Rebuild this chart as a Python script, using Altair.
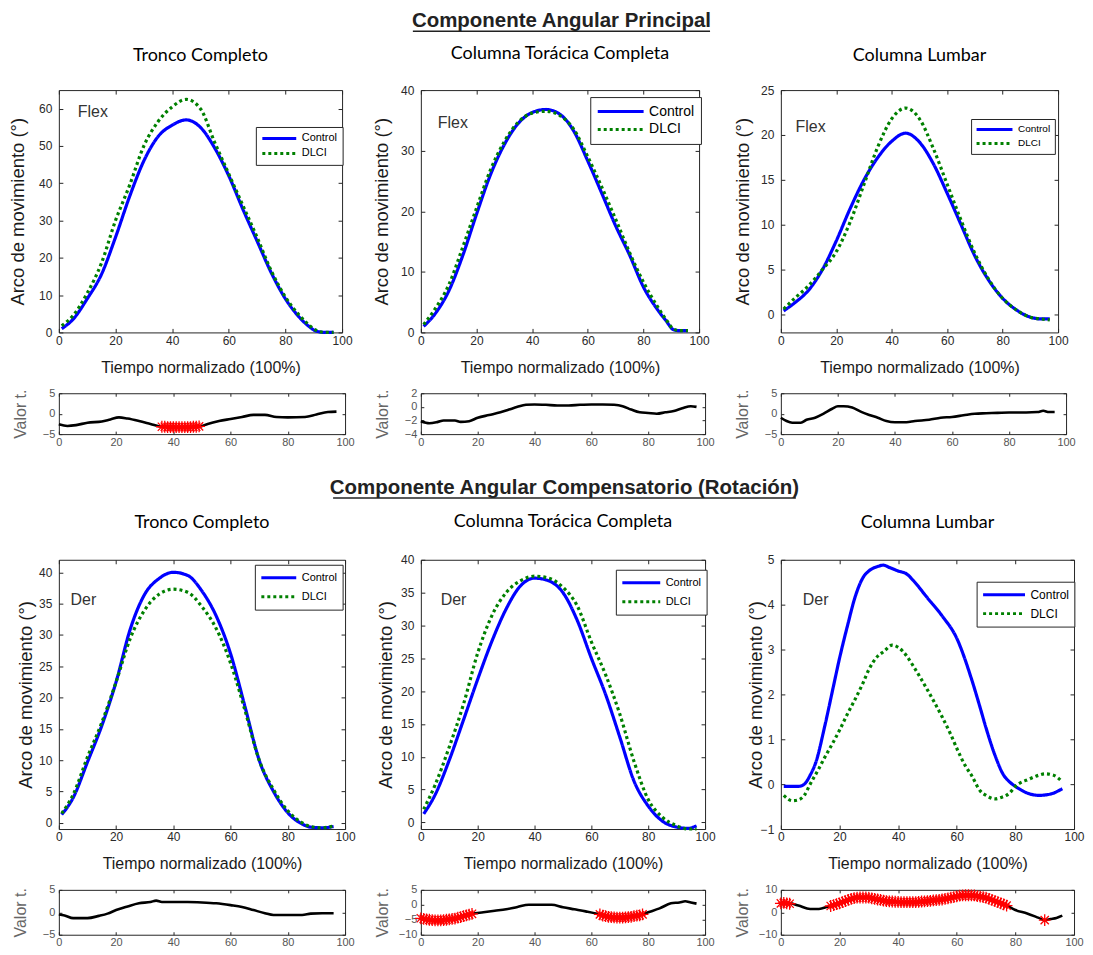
import altair as alt
import pandas as pd

FONT = "Liberation Sans"
TFONT = "Lato"
SFONT = "Liberation Sans Narrow, Liberation Sans"
AX = "#2a2a2a"
BOX = "#262626"
SERIES = ["Control", "DLCI"]
X_TICKS = [0, 20, 40, 60, 80, 100]
ASTERISK = "M-1,0L1,0M0,-1L0,1M-0.7,-0.7L0.7,0.7M-0.7,0.7L0.7,-0.7"

section_titles = ["Componente Angular Principal",
                  "Componente Angular Compensatorio (Rotación)"]
panel_titles = ["Tronco Completo", "Columna Torácica Completa", "Columna Lumbar"]
mov_labels = ["Flex", "Der"]
y_title = "Arco de movimiento (°)"
x_title = "Tiempo normalizado (100%)"
t_title = "Valor t."

# ---------------- main panels (mean curves) ----------------
p1_x = [1, 5, 10, 15, 20, 25, 30, 35, 40, 45, 50, 55, 60, 65, 70, 75, 80, 85, 88, 91, 94, 97]
p1_control = [1, 3.5, 9, 15.5, 25.5, 36.5, 46, 52.5, 55.6, 57, 55, 49.5, 42, 33, 24.5, 16, 9, 4, 1.8, 0.3, 0, 0]
p1_dlci = [1.8, 4.5, 10.5, 18.5, 30, 39.5, 50, 56.5, 60.5, 62.5, 60, 51, 42.5, 34, 25.5, 16.5, 9.5, 4.5, 2.2, 0.5, 0, 0]

p2_x = [1, 5, 10, 15, 20, 25, 30, 35, 40, 45, 50, 55, 60, 65, 70, 75, 80, 85, 88, 91, 93, 96]
p2_control = [1, 3, 6.8, 12.6, 19.5, 26, 31, 34.5, 36.3, 36.8, 36, 33.2, 28.3, 23, 17.6, 12.8, 7.5, 3.8, 2, 0.4, 0.3, 0.3]
p2_dlci = [1.3, 3.8, 7.8, 14, 20.5, 26.8, 31.5, 34.7, 36.2, 36.5, 35.8, 33.5, 29, 24, 18.7, 13.2, 8.3, 4.3, 2.2, 0.5, 0.3, 0.3]

p3_x = [1, 5, 10, 15, 20, 25, 30, 35, 40, 45, 50, 55, 60, 65, 70, 75, 80, 85, 90, 94, 97]
p3_control = [0.4, 1.3, 2.7, 5, 8.2, 11.8, 15, 17.5, 19.3, 20.2, 19.2, 16.8, 13.5, 10, 6.5, 3.8, 1.8, 0.5, -0.3, -0.5, -0.5]
p3_dlci = [0.6, 1.8, 3.2, 5, 7, 10.3, 14.5, 18.7, 21.8, 23, 21.8, 18.5, 14.5, 10.5, 6.8, 3.9, 1.8, 0.5, -0.3, -0.5, -0.6]

p4_x = [1, 5, 10, 15, 20, 25, 30, 35, 40, 45, 50, 55, 60, 65, 70, 75, 80, 85, 88, 92, 96]
p4_control = [1.3, 4, 9.7, 15.5, 22.5, 31, 36.5, 39, 40, 39.5, 37, 33, 27, 18.6, 10, 5, 1.6, -0.2, -0.7, -0.8, -0.6]
p4_dlci = [1.5, 4.5, 10.5, 16, 22.5, 29.5, 34, 36.5, 37.3, 36.8, 34.5, 31, 25.5, 18, 10, 5.3, 1.9, 0, -0.6, -0.8, -0.5]

p5_x = [1, 5, 10, 15, 20, 25, 30, 35, 40, 45, 50, 55, 60, 65, 70, 75, 80, 85, 90, 94, 97]
p5_control = [1.3, 4.2, 9.5, 15.6, 21.8, 27.6, 32.5, 36, 37.2, 36.8, 35, 30.8, 25, 19.5, 13, 6.3, 2.5, 0.2, -0.7, -0.9, -0.5]
p5_dlci = [2, 5.7, 11.5, 18, 25.8, 31.5, 35, 36.8, 37.5, 37.2, 35.8, 33, 27.5, 22.5, 16.5, 9.3, 3.5, 0.8, -0.5, -1, -1]

p6_x_control = [1, 3, 6, 8, 10, 12, 15, 18, 20, 23, 25, 28, 30, 33, 35, 37, 40, 43, 45, 50, 55, 60, 65, 68, 70, 73, 76, 78, 80, 85, 88, 92, 96]
p6_control = [-0.05, -0.05, -0.05, 0, 0.2, 0.5, 1.3, 2.2, 2.8, 3.6, 4.1, 4.6, 4.75, 4.85, 4.88, 4.83, 4.75, 4.68, 4.55, 4.15, 3.75, 3.25, 2.35, 1.7, 1.25, 0.65, 0.2, 0.05, -0.05, -0.22, -0.25, -0.22, -0.1]
p6_x_dlci = [1, 4, 6, 8, 10, 13, 15, 18, 20, 23, 25, 28, 30, 33, 35, 38, 40, 43, 45, 50, 55, 58, 60, 63, 65, 68, 70, 73, 75, 78, 80, 85, 88, 90, 93, 96]
p6_dlci = [-0.25, -0.37, -0.35, -0.25, 0.0, 0.35, 0.6, 0.95, 1.2, 1.6, 1.85, 2.25, 2.55, 2.85, 2.95, 3.1, 3.05, 2.85, 2.65, 2.1, 1.5, 1.1, 0.8, 0.4, 0.2, -0.15, -0.25, -0.33, -0.3, -0.2, -0.05, 0.12, 0.2, 0.23, 0.2, 0.05]

# ---------------- t-value panels ----------------
s1_x = [0, 3, 6, 10, 15, 18, 21, 24, 28, 32, 36, 40, 45, 49, 52, 56, 60, 64, 68, 72, 76, 80, 86, 90, 94, 97]
s1_t = [-2.6, -3, -2.8, -2.2, -1.9, -1.4, -0.9, -1.2, -1.8, -2.5, -3.2, -3.3, -3.3, -3.2, -2.5, -1.8, -1.3, -0.8, -0.3, -0.3, -0.8, -0.9, -0.8, -0.2, 0.4, 0.5]
s1_sig_x = [36, 37, 38, 39, 40, 41, 42, 43, 44, 45, 46, 47, 48, 49]
s1_sig_t = [-3.2, -3.2, -3.3, -3.3, -3.3, -3.3, -3.3, -3.3, -3.3, -3.3, -3.3, -3.2, -3.2, -3.1]

s2_x = [0, 3, 6, 8, 12, 14, 17, 20, 24, 28, 31, 34, 37, 40, 44, 48, 52, 56, 60, 64, 68, 71, 74, 77, 80, 83, 86, 89, 92, 95, 97]
s2_t = [-2.1, -2.4, -2.2, -2, -2, -2.2, -2.1, -1.6, -1.2, -0.8, -0.4, 0, 0.3, 0.35, 0.3, 0.2, 0.2, 0.3, 0.35, 0.35, 0.3, 0.1, -0.4, -0.8, -0.9, -1, -0.8, -0.6, -0.2, 0.1, 0]
s2_sig_x = []
s2_sig_t = []

s3_x = [0, 2, 4, 7, 9, 12, 15, 18, 20, 22, 25, 28, 31, 34, 37, 40, 44, 47, 52, 56, 60, 64, 68, 72, 76, 80, 86, 90, 92, 94, 96]
s3_t = [-1, -1.8, -2.2, -2.2, -1.5, -1, 0, 1.2, 1.8, 1.8, 1.5, 0.5, -0.3, -1, -1.8, -2.1, -2.1, -1.8, -1.5, -1, -0.8, -0.4, 0, 0.1, 0.2, 0.3, 0.3, 0.4, 0.7, 0.4, 0.4]
s3_sig_x = []
s3_sig_t = []

s4_x = [0, 2, 5, 10, 14, 17, 20, 24, 28, 32, 34, 36, 40, 45, 50, 55, 60, 64, 68, 72, 75, 80, 85, 88, 92, 96]
s4_t = [-0.5, -0.7, -1.3, -1.3, -0.8, -0.3, 0.5, 1.3, 2, 2.3, 2.6, 2.3, 2.3, 2.3, 2.2, 2, 1.6, 1.2, 0.5, -0.2, -0.6, -0.6, -0.6, -0.3, -0.2, -0.2]
s4_sig_x = []
s4_sig_t = []

s5_x = [0, 3, 6, 9, 12, 15, 18, 22, 26, 30, 34, 38, 42, 46, 50, 54, 58, 62, 65, 68, 71, 74, 77, 80, 84, 88, 91, 93, 95, 97]
s5_t = [-4.5, -5, -5.2, -5, -4.6, -3.8, -3, -2.5, -2, -1.5, -0.7, 0, 0, 0, -0.8, -1.5, -2.2, -3, -3.8, -4.2, -4.3, -4, -3.5, -2.5, -1.2, 0.5, 0.8, 1.2, 0.8, 0.4]
s5_sig_x = [0, 1, 2, 3, 4, 5, 6, 7, 8, 9, 10, 11, 12, 13, 14, 15, 16, 17, 18,
            63, 64, 65, 66, 67, 68, 69, 70, 71, 72, 73, 74, 75, 76, 77, 78]
s5_sig_t = [-4.5, -4.7, -4.9, -5, -5.1, -5.2, -5.2, -5.2, -5.1, -5, -4.9, -4.7, -4.6, -4.3, -4.1, -3.8, -3.5, -3.3, -3,
            -3.2, -3.6, -3.8, -4, -4.1, -4.2, -4.3, -4.3, -4.3, -4.2, -4.1, -4, -3.8, -3.6, -3.5, -3.2]

s6_x = [0, 3, 6, 10, 13, 16, 20, 23, 26, 30, 34, 38, 42, 46, 50, 54, 58, 62, 66, 70, 74, 77, 80, 84, 88, 90, 92, 94, 96]
s6_t = [4, 4, 3, 1.5, 1.5, 2.5, 4, 5.5, 6.5, 6.5, 5.5, 4.8, 4.5, 4.5, 5, 5.5, 6.5, 7.5, 7.5, 6.5, 4.5, 3, 1, -0.5, -2.5, -3.5, -3, -2.5, -1.5]
s6_sig_x = [0, 1, 2, 3,
            17, 18, 19, 20, 21, 22, 23, 24, 25, 26, 27, 28, 29, 30, 31, 32, 33, 34, 35, 36, 37, 38, 39, 40,
            41, 42, 43, 44, 45, 46, 47, 48, 49, 50, 51, 52, 53, 54, 55, 56, 57, 58, 59, 60, 61, 62, 63, 64,
            65, 66, 67, 68, 69, 70, 71, 72, 73, 74, 75, 76, 77,
            90]
s6_sig_t = [4, 4.2, 4, 3.8,
            2.8, 3.2, 3.6, 4, 4.5, 5, 5.5, 6, 6.3, 6.5, 6.6, 6.6, 6.6, 6.5, 6.2, 6, 5.7, 5.5, 5.2, 5, 4.9, 4.8, 4.7, 4.6,
            4.5, 4.5, 4.5, 4.5, 4.5, 4.5, 4.6, 4.8, 4.9, 5, 5.1, 5.3, 5.4, 5.5, 5.7, 6, 6.2, 6.5, 6.8, 7.1, 7.4, 7.5, 7.6, 7.6,
            7.5, 7.5, 7.2, 7, 6.8, 6.5, 6, 5.5, 5, 4.5, 4, 3.5, 3,
            -3.5]


def axis(orient, values, lsize, lpad, tick=4, labels=True, title=None, tsize=16,
         tpos=None, lcolor=AX, tcolor="#1a1a1a"):
    kw = dict(orient=orient, values=values, offset=-tick, tickSize=tick, tickColor=BOX,
              tickWidth=1, domain=False, grid=False, labels=labels, labelFont=FONT,
              labelFontSize=lsize, labelColor=lcolor, labelPadding=lpad,
              labelFlush=False, labelOverlap=False, title=title)
    if title is not None:
        kw.update(titleFont=FONT, titleFontSize=tsize, titleColor=tcolor,
                  titleFontWeight="normal", titleBaseline="middle")
        if tpos is not None:
            if orient in ("left", "right"):
                kw["titleX"] = tpos
            else:
                kw["titleY"] = tpos
    return alt.Axis(**kw)


def main_panel(title, xc, yc, xd, yd, ydom, yticks, w, h, mov, mov_xy, leg, ttl_off, ytx):
    df = pd.DataFrame({"t": xc + xd, "v": yc + yd,
                       "serie": ["Control"] * len(xc) + ["DLCI"] * len(xd)})
    xs = alt.Scale(domain=[0, 100], nice=False, zero=False)
    ys = alt.Scale(domain=ydom, nice=False, zero=False)
    fs, L, pad, clip_h, rowpad, ly, dx = leg
    lw = 2 * pad + L + 3 + 4 + 3.223 * fs
    legend = alt.Legend(title=None, orient="none", legendX=w - lw + dx, legendY=ly,
                        strokeColor=BOX, fillColor="white", padding=pad, cornerRadius=0,
                        labelFont=FONT, labelFontSize=fs, labelColor="black",
                        labelOffset=4, symbolType="stroke", symbolSize=L * L,
                        symbolStrokeWidth=3, clipHeight=clip_h, rowPadding=rowpad)
    lines = alt.Chart(df).mark_line(strokeWidth=3.2, strokeCap="butt", interpolate="monotone").encode(
        x=alt.X("t:Q", scale=xs, axis=axis("bottom", X_TICKS, 12, 3, title=x_title, tsize=16, tpos=39)),
        y=alt.Y("v:Q", scale=ys, axis=axis("left", yticks, 12, 7, title=y_title, tsize=18.5, tpos=ytx)),
        color=alt.Color("serie:N", scale=alt.Scale(domain=SERIES, range=["#0000ff", "#008000"]), legend=legend),
        strokeDash=alt.StrokeDash("serie:N", scale=alt.Scale(domain=SERIES, range=[[1, 0], [3, 3]]), legend=legend),
    )
    lab = alt.Chart(pd.DataFrame({"t": [mov_xy[0]], "v": [mov_xy[1]], "txt": [mov]})).mark_text(
        align="left", baseline="middle", font=FONT, fontSize=16, color="#333333").encode(
        x=alt.X("t:Q", scale=xs, axis=None), y=alt.Y("v:Q", scale=ys, axis=None), text="txt:N")
    frame = alt.Chart(df).mark_line(opacity=0).encode(
        x=alt.X("t:Q", scale=xs, axis=axis("top", X_TICKS, 12, 3, labels=False)),
        y=alt.Y("v:Q", scale=ys, axis=axis("right", yticks, 12, 3, labels=False)))
    return alt.layer(lines, lab, frame).resolve_axis(x="independent", y="independent").properties(
        width=w, height=h,
        title=alt.TitleParams(title, font=TFONT, fontSize=18, fontWeight="normal", color="black",
                              offset=ttl_off, anchor="middle"),
        view=alt.ViewBackground(stroke=BOX, strokeWidth=1))


def small_panel(x, t, sx, st, ydom, yticks, w, h):
    xs = alt.Scale(domain=[0, 100], nice=False, zero=False)
    ys = alt.Scale(domain=ydom, nice=False, zero=False)
    df = pd.DataFrame({"t": x, "v": t})
    line = alt.Chart(df).mark_line(color="black", strokeWidth=2.6, interpolate="monotone").encode(
        x=alt.X("t:Q", scale=xs, axis=axis("bottom", X_TICKS, 11, 2, tick=3, lcolor="#555555")),
        y=alt.Y("v:Q", scale=ys, axis=axis("left", yticks, 11, 4, tick=3, lcolor="#555555",
                                            title=t_title, tsize=16, tpos=-41, tcolor="#666666")))
    frame = alt.Chart(df).mark_line(opacity=0).encode(
        x=alt.X("t:Q", scale=xs, axis=axis("top", X_TICKS, 10, 2, tick=3, labels=False)),
        y=alt.Y("v:Q", scale=ys, axis=axis("right", yticks, 10, 2, tick=3, labels=False)))
    layers = [line]
    if sx:
        stars = alt.Chart(pd.DataFrame({"t": sx, "v": st})).mark_point(
            shape=ASTERISK, size=140, color="#ff0000", strokeWidth=1.3, filled=False, opacity=1).encode(
            x=alt.X("t:Q", scale=xs, axis=None), y=alt.Y("v:Q", scale=ys, axis=None))
        layers.append(stars)
    layers.append(frame)
    return alt.layer(*layers).resolve_axis(x="independent", y="independent").properties(
        width=w, height=h, view=alt.ViewBackground(stroke=BOX, strokeWidth=1))


def section(text, cx, ty, uy, halfw, h):
    df = pd.DataFrame({"txt": [text]})
    t = alt.Chart(df).mark_text(font=SFONT, fontSize=20.5, fontWeight="bold", color="#222222",
                                baseline="middle", align="center").encode(
        text="txt:N", x=alt.value(cx), y=alt.value(ty))
    u = alt.Chart(df).mark_rule(color="#222222", strokeWidth=1.5).encode(
        x=alt.value(cx - halfw), x2=alt.value(cx + halfw), y=alt.value(uy))
    return alt.layer(t, u).properties(width=285, height=h, view=alt.ViewBackground(stroke=None))


def empty():
    return alt.Chart(pd.DataFrame({"a": [0]})).mark_point(opacity=0).encode(
        x=alt.value(0), y=alt.value(0)).properties(width=1, height=1, view=alt.ViewBackground(stroke=None))


P1 = main_panel(panel_titles[0], p1_x, p1_control, p1_x, p1_dlci, [0, 65], [0, 10, 20, 30, 40, 50, 60],
                284, 243, mov_labels[0], (6.7, 59), (11, 34, 5, 13, 2, 37, 0), 25, -45)
P2 = main_panel(panel_titles[1], p2_x, p2_control, p2_x, p2_dlci, [0, 40], [0, 10, 20, 30, 40],
                279, 243, mov_labels[0], (6.1, 34.5), (14, 46, 6, 17, 1, 7, 1), 21, -43)
P3 = main_panel(panel_titles[2], p3_x, p3_control, p3_x, p3_dlci, [-2, 25], [0, 5, 10, 15, 20, 25],
                278, 243, mov_labels[0], (5.3, 20.9), (10, 36, 4, 13, 1, 29, -4), 19, -42)
P4 = main_panel(panel_titles[0], p4_x, p4_control, p4_x, p4_dlci, [-1, 42], [0, 5, 10, 15, 20, 25, 30, 35, 40],
                287, 270, mov_labels[1], (4.1, 35.5), (11, 35, 5, 16, 3, 5, -3), 27, -37)
P5 = main_panel(panel_titles[1], p5_x, p5_control, p5_x, p5_dlci, [-1, 40], [0, 5, 10, 15, 20, 25, 30, 35, 40],
                285, 270, mov_labels[1], (7, 33.9), (11, 38, 5, 16, 3, 10, 1), 23, -39)
P6 = main_panel(panel_titles[2], p6_x_control, p6_control, p6_x_dlci, p6_dlci, [-1, 5], [-1, 0, 1, 2, 3, 4, 5],
                294, 270, mov_labels[1], (7.5, 4.1), (12, 42, 5, 16, 3, 22, 0), 22, -29)

S1 = small_panel(s1_x, s1_t, s1_sig_x, s1_sig_t, [-5, 5], [-5, 0, 5], 287, 41)
S2 = small_panel(s2_x, s2_t, s2_sig_x, s2_sig_t, [-4, 2], [-4, -2, 0, 2], 285, 41)
S3 = small_panel(s3_x, s3_t, s3_sig_x, s3_sig_t, [-5, 5], [-5, 0, 5], 286, 41)
S4 = small_panel(s4_x, s4_t, s4_sig_x, s4_sig_t, [-5, 5], [-5, 0, 5], 287, 45)
S5 = small_panel(s5_x, s5_t, s5_sig_x, s5_sig_t, [-10, 5], [-10, -5, 0, 5], 285, 45)
S6 = small_panel(s6_x, s6_t, s6_sig_x, s6_sig_t, [-10, 10], [-10, 0, 10], 294, 45)

T1 = section(section_titles[0], 141, 9, 19, 149, 17)
T2 = section(section_titles[1], 144, -7, 3, 232, 4)

chart = alt.concat(
    empty(), T1, empty(),
    P1, P2, P3,
    S1, S2, S3,
    empty(), T2, empty(),
    P4, P5, P6,
    S4, S5, S6,
    columns=3, spacing={"row": 61, "column": 76}, bounds="flush",
).resolve_scale(color="independent", strokeDash="independent").resolve_legend(
    color="independent", strokeDash="independent"
).properties(
    padding={"left": 0, "top": 0, "right": 0, "bottom": 0}
).configure(font=FONT).configure_view(stroke=None)

chart.save("out.html", embed_options={"renderer": "svg", "actions": False})
